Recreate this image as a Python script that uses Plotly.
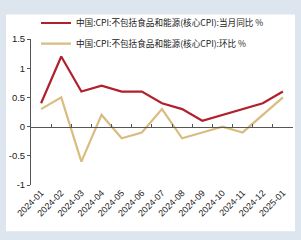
import plotly.graph_objects as go

months = ["2024-01", "2024-02", "2024-03", "2024-04", "2024-05", "2024-06", "2024-07",
          "2024-08", "2024-09", "2024-10", "2024-11", "2024-12", "2025-01"]
yoy = [0.4, 1.2, 0.6, 0.7, 0.6, 0.6, 0.4, 0.3, 0.1, 0.2, 0.3, 0.4, 0.6]
mom = [0.3, 0.5, -0.6, 0.2, -0.2, -0.1, 0.3, -0.2, -0.1, 0.0, -0.1, 0.2, 0.5]
name_yoy = "中国:CPI:不包括食品和能源(核心CPI):当月同比 %"
name_mom = "中国:CPI:不包括食品和能源(核心CPI):环比 %"
ytick_vals = [-1, -0.5, 0, 0.5, 1, 1.5]
ytick_text = ["-1", "-0.5", "0", "0.5", "1", "1.5"]

idx = list(range(len(months)))
bounds = [i - 0.5 for i in range(len(months) + 1)]

W, H = 301, 240
L, R, T, B = 31, 8, 30, 55
pw, ph = W - L - R, H - T - B

def px(x):
    return (x - L) / pw

def py(y):
    return (H - B - y) / ph

fig = go.Figure()
fig.add_trace(go.Scatter(x=idx, y=yoy, mode="lines", name=name_yoy,
                         line=dict(color="#B1202B", width=2.2), legend="legend"))
fig.add_trace(go.Scatter(x=idx, y=mom, mode="lines", name=name_mom,
                         line=dict(color="#D8BC82", width=2.2), legend="legend2"))
fig.add_trace(go.Scatter(x=[bounds[0]], y=[0], xaxis="x2", mode="markers",
                         marker=dict(opacity=0), showlegend=False, hoverinfo="skip"))

legfont = dict(family="Noto Sans CJK SC", size=8.6, color="#222")
fig.update_layout(
    width=W, height=H,
    margin=dict(l=L, r=R, t=T, b=B, pad=0),
    paper_bgcolor="#dde5ef",
    plot_bgcolor="rgba(0,0,0,0)",
    showlegend=True,
    legend=dict(x=px(36), y=py(13), xanchor="left", yanchor="middle",
                bgcolor="rgba(0,0,0,0)", font=legfont, itemwidth=30),
    legend2=dict(x=px(36), y=py(35), xanchor="left", yanchor="middle",
                 bgcolor="rgba(0,0,0,0)", font=legfont, itemwidth=30),
    xaxis=dict(range=[-0.5, len(months) - 0.5], tickvals=idx, ticktext=months,
               tickangle=-45, showline=False, ticks="", showgrid=False, zeroline=False,
               tickfont=dict(family="Liberation Sans", size=9, color="#222")),
    xaxis2=dict(range=[-0.5, len(months) - 0.5], overlaying="x", anchor="free",
                position=0.4, side="bottom", tickvals=bounds, ticks="inside",
                ticklen=3, tickcolor="#555", showticklabels=False, showline=True,
                linecolor="#555", linewidth=1, showgrid=False, zeroline=False),
    yaxis=dict(range=[-1, 1.5], tickvals=ytick_vals, ticktext=ytick_text,
               showline=True, linecolor="#555", linewidth=1, ticks="outside",
               ticklen=3, tickcolor="#555", showgrid=False, zeroline=False,
               tickfont=dict(family="Liberation Sans", size=9.5, color="#222")),
    shapes=[dict(type="rect", xref="paper", yref="paper", layer="below",
                 x0=px(6), x1=px(295), y0=py(234), y1=py(4),
                 fillcolor="white", line=dict(width=0))],
)
fig.write_html("out.html")
